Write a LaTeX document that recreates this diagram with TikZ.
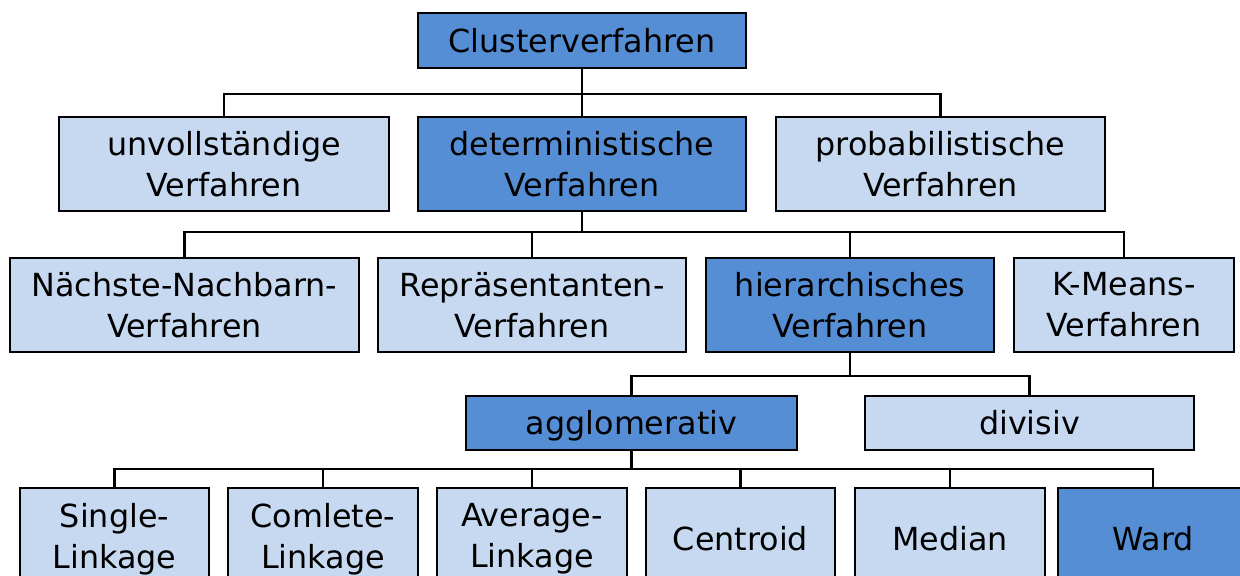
\documentclass[tikz,border=0pt]{standalone}
\usepackage{fontspec}
\setmainfont{DejaVu Sans}
\usepackage{tikz}
\usetikzlibrary{positioning}

\definecolor{darkbox}{HTML}{558ED5}
\definecolor{lightbox}{HTML}{C6D9F1}

\tikzset{
  box/.style={draw=black, line width=1.8pt, inner sep=0pt, align=center,
    font=\fontsize{22.6}{29}\selectfont},
  sz/.style 2 args={minimum width=#1*0.025cm, minimum height=#2*0.025cm},
  dark/.style={box, fill=darkbox},
  light/.style={box, fill=lightbox},
  bus/.style={line width=1.7pt}
}

\begin{document}
\begin{tikzpicture}[x=0.025cm, y=-0.025cm]
  \useasboundingbox (0,0) rectangle (1240,575);
  \clip (0,0) rectangle (1240,575);
  \node[dark, sz={328}{55}] (root) at (582,40.5) {Clusterverfahren};

  \node[light, sz={330}{94}] (unv) at (224,164) {unvollständige\\Verfahren};
  \node[dark, sz={328}{94}] (det) at (582,164) {deterministische\\Verfahren};
  \node[light, sz={329}{94}] (prob) at (940.5,164) {probabilistische\\Verfahren};

  \node[light, sz={349}{94}] (nn) at (184.5,305) {Nächste-Nachbarn-\\Verfahren};
  \node[light, sz={308}{94}] (rep) at (532,305) {Repräsentanten-\\Verfahren};
  \node[dark, sz={288}{94}] (hier) at (850,305) {hierarchisches\\Verfahren};
  \node[light, sz={220}{94}] (km) at (1124,305) {K-Means-\\Verfahren};

  \node[dark, sz={331}{54}, text depth=1pt] (agg) at (631.5,423) {agglomerativ};
  \node[light, sz={329}{54}] (div) at (1029.5,423) {divisiv};

  \node[light, sz={189}{102}] (sl) at (114.5,539) {Single-\\Linkage};
  \node[light, sz={190}{102}] (cl) at (323,539) {Comlete-\\Linkage};
  \node[light, sz={190}{102}] (al) at (532,539) {Average-\\Linkage};
  \node[light, sz={189}{102}] (cen) at (740.5,539) {Centroid};
  \node[light, sz={190}{102}] (med) at (950,539) {Median};
  \node[dark, sz={190}{102}] (ward) at (1153,539) {Ward};

  \foreach \c in {unv,det,prob}
    \draw[bus] (root.south) -- ++(0,25) -| (\c.north);
  \foreach \c in {nn,rep,hier,km}
    \draw[bus] (det.south) -- ++(0,20) -| (\c.north);
  \foreach \c in {agg,div}
    \draw[bus] (hier.south) -- ++(0,23) -| (\c.north);
  \foreach \c in {sl,cl,al,cen,med,ward}
    \draw[bus] (agg.south) -- ++(0,18) -| (\c.north);
\end{tikzpicture}
\end{document}
